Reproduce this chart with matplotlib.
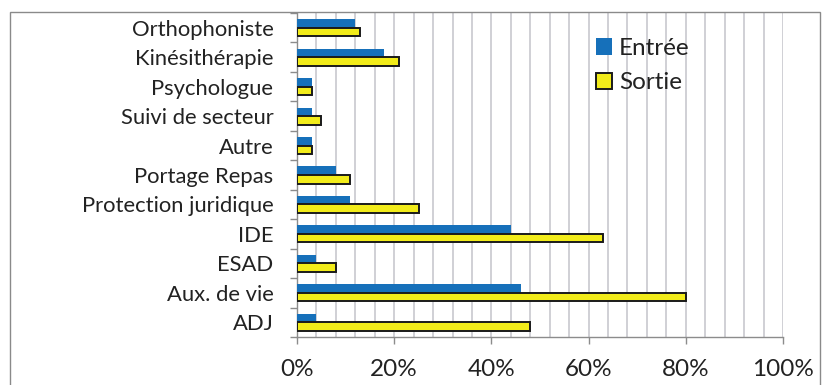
import matplotlib
matplotlib.use("Agg")
import matplotlib.pyplot as plt
import numpy as np
from matplotlib import ticker
from matplotlib.patches import Rectangle

plt.rcParams['font.family'] = ['Lato', 'DejaVu Sans']

categories = ['ADJ', 'Aux. de vie', 'ESAD', 'IDE', 'Protection juridique',
              'Portage Repas', 'Autre', 'Suivi de secteur', 'Psychologue',
              'Kinésithérapie', 'Orthophoniste']
entree = [4, 46, 4, 44, 11, 8, 3, 3, 3, 18, 12]
sortie = [48, 80, 8, 63, 25, 11, 3, 5, 3, 21, 13]

blue = '#1670BA'
yellow = '#F2EC1A'
grid_col = '#C4C4CA'
axis_col = '#8C8C8C'
text_col = '#222222'

fig = plt.figure(figsize=(8.29, 3.85), dpi=100)
ax = fig.add_axes([297/829, 1 - 337/385, (783 - 297)/829, (337 - 13)/385])

y = np.arange(len(categories))
h = 0.29
ax.barh(y + h/2, entree, height=h, color=blue, label='Entrée', zorder=3)
ax.barh(y - h/2, sortie, height=h, color=yellow, edgecolor='#1a1a1a',
        linewidth=1.4, label='Sortie', zorder=3)

ax.set_xlim(0, 100)
ax.set_ylim(-0.5, len(categories) - 0.5)

ax.xaxis.set_major_locator(ticker.MultipleLocator(20))
ax.xaxis.set_minor_locator(ticker.MultipleLocator(4))
ax.xaxis.set_major_formatter(ticker.FuncFormatter(lambda v, p: f'{v:.0f}%'))
ax.grid(axis='x', which='both', color=grid_col, linewidth=1.1, zorder=0)

ax.set_yticks(y)
ax.set_yticklabels(categories)
ax.yaxis.set_minor_locator(ticker.FixedLocator(np.arange(-0.5, len(categories), 1)))

ax.tick_params(axis='y', which='major', length=0, pad=17, labelsize=15.8,
               labelcolor=text_col)
ax.tick_params(axis='y', which='minor', length=5, color=axis_col, width=1)
ax.tick_params(axis='x', which='major', length=5, color=axis_col, width=1,
               pad=11, labelsize=17.5, labelcolor=text_col)
ax.tick_params(axis='x', which='minor', length=0)

for side in ['top', 'right']:
    ax.spines[side].set_visible(False)
for side in ['left', 'bottom']:
    ax.spines[side].set_color(axis_col)
    ax.spines[side].set_linewidth(1)

# white legend area over the gridlines
ax.add_patch(Rectangle((567/829, 1 - 98/385), (713 - 567)/829, (98 - 30)/385,
                       transform=fig.transFigure, facecolor='white',
                       edgecolor='none', zorder=1))

leg = ax.legend(loc='upper left', bbox_to_anchor=(590/829, 1 - 32/385),
                bbox_transform=fig.transFigure, frameon=False,
                fontsize=17.5, handlelength=0.65, handleheight=0.65,
                handletextpad=0.3, labelspacing=0.55, borderpad=0.25,
                borderaxespad=0)
for t in leg.get_texts():
    t.set_color(text_col)

# outer chart border
fig.patches.append(Rectangle((10/829, -0.05), (820 - 10)/829, 1.05 - 12/385,
                             transform=fig.transFigure, fill=False,
                             edgecolor='#8A8A8A', linewidth=1))

fig.savefig('out.png', dpi=100)
